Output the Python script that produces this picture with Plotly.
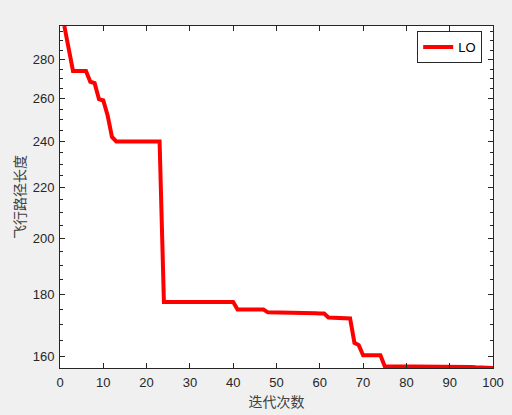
import plotly.graph_objects as go

iterations = list(range(1, 101))
path_length = [
    298.2, 286.0, 274.0, 274.0, 274.0, 274.0, 268.5, 267.8, 259.8, 259.2,
    252.0, 242.0, 240.0, 240.0, 240.0, 240.0, 240.0, 240.0, 240.0, 240.0,
    240.0, 240.0, 240.0, 177.4, 177.4, 177.4, 177.4, 177.4, 177.4, 177.4,
    177.4, 177.4, 177.4, 177.4, 177.4, 177.4, 177.4, 177.4, 177.4, 177.4,
    174.9, 174.9, 174.9, 174.9, 174.9, 174.9, 174.9, 174.0, 174.0, 173.9,
    173.9, 173.8, 173.8, 173.8, 173.8, 173.7, 173.7, 173.7, 173.7, 173.6,
    173.6, 172.3, 172.2, 172.2, 172.1, 172.0, 172.0, 164.3, 163.6, 160.5,
    160.5, 160.5, 160.5, 160.5, 157.2, 157.2, 157.2, 157.2, 157.2, 157.1,
    157.1, 157.1, 157.1, 157.1, 157.1, 157.1, 157.1, 157.0, 157.0, 157.0,
    157.0, 157.0, 157.0, 157.0, 157.0, 156.9, 156.9, 156.8, 156.8, 156.7,
]
series_name = "LO"
x_label = "迭代次数"
y_label = "飞行路径长度"
x_ticks = [0, 10, 20, 30, 40, 50, 60, 70, 80, 90, 100]
y_ticks = [160, 180, 200, 220, 240, 260, 280]
y_minor_ticks = [v for v in range(160, 300, 5) if v not in y_ticks]

fig = go.Figure()
fig.add_trace(go.Scatter(
    x=iterations, y=path_length, mode="lines", name=series_name,
    line=dict(color="#ff0000", width=4),
))

axis_color = "#262626"
tick_font = dict(family="Liberation Sans, Arial, sans-serif", size=13, color=axis_color)
title_font = dict(family="Noto Sans CJK SC, sans-serif", size=14, color="#404040")

fig.update_layout(
    width=512, height=415,
    paper_bgcolor="#f0f0f0", plot_bgcolor="#ffffff",
    margin=dict(l=60, r=19, t=26, b=47, autoexpand=False),
    showlegend=True,
    legend=dict(
        x=0.975, y=0.985, xanchor="right", yanchor="top",
        bgcolor="#ffffff", bordercolor=axis_color, borderwidth=1,
        font=dict(family="Liberation Sans, Arial, sans-serif", size=13, color="#000000"),
        tracegroupgap=0, itemwidth=30,
    ),
)
fig.update_xaxes(
    range=[0, 100], tickmode="array", tickvals=x_ticks,
    ticks="inside", ticklen=5, tickwidth=1, tickcolor=axis_color,
    showline=True, linecolor=axis_color, linewidth=1, mirror="allticks",
    showgrid=False, zeroline=False, tickfont=tick_font, automargin=False,
    ticklabelstandoff=2,
    title=dict(text=x_label, font=title_font, standoff=8),
)
fig.update_yaxes(
    type="log", range=[2.19507, 2.47450], tickmode="array", tickvals=y_ticks,
    ticktext=[str(v) for v in y_ticks],
    ticks="inside", ticklen=5, tickwidth=1, tickcolor=axis_color,
    showline=True, linecolor=axis_color, linewidth=1, mirror="allticks",
    showgrid=False, zeroline=False, tickfont=tick_font, automargin=False,
    ticklabelstandoff=2,
    minor=dict(tickmode="array", tickvals=y_minor_ticks, ticks="inside",
               ticklen=3, tickcolor=axis_color, showgrid=False),
    title=dict(text=y_label, font=title_font, standoff=3),
)

fig.write_html(
    "out.html",
    config={"displayModeBar": False},
    post_script="document.body.style.margin='0';document.body.style.background='#f0f0f0';",
)
